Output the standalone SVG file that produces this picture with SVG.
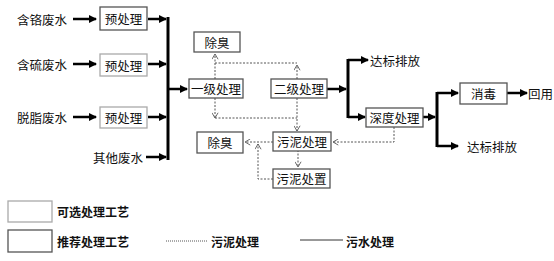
<svg xmlns="http://www.w3.org/2000/svg" width="554" height="261" viewBox="0 0 554 261">
<style>
text{font-family:"Noto Sans CJK SC","Noto Sans",sans-serif;font-size:12.5px;fill:#111;dominant-baseline:central}
.c{text-anchor:middle}
.box{fill:#fff;stroke:#555;stroke-width:1.3}
.lt{stroke:#aaa}
.s{fill:none;stroke:#000;stroke-width:2.5}
.bar{fill:none;stroke:#000;stroke-width:3}
.d{fill:none;stroke:#555;stroke-width:1;stroke-dasharray:2 1.5}
.lg{font-size:12px;font-weight:bold}
</style>
<defs>
<marker id="a" viewBox="0 0 8 8" refX="7" refY="4" markerWidth="8" markerHeight="8" markerUnits="userSpaceOnUse" orient="auto"><path d="M0,0L8,4L0,8z" fill="#000"/></marker>
<marker id="o" viewBox="0 0 8 8" refX="7" refY="4" markerWidth="7" markerHeight="7" markerUnits="userSpaceOnUse" orient="auto"><path d="M1,0.5L7,4L1,7.5" fill="none" stroke="#555" stroke-width="1"/></marker>
</defs>
<rect width="554" height="261" fill="#fff"/>
<g id="connectors">
<path class="s" d="M73,19H96" marker-end="url(#a)"/>
<path class="s" d="M73,64H96" marker-end="url(#a)"/>
<path class="s" d="M73,117H96" marker-end="url(#a)"/>
<path class="s" d="M148,19H166" marker-end="url(#a)"/>
<path class="s" d="M148,64H166" marker-end="url(#a)"/>
<path class="s" d="M148,117H166" marker-end="url(#a)"/>
<path class="s" d="M146,157H166" marker-end="url(#a)"/>
<path class="bar" d="M168,17V160"/>
<path class="s" d="M169,89H187" marker-end="url(#a)"/>
<path class="s" d="M327,89H346" marker-end="url(#a)"/>
<path class="bar" d="M348,59V118"/>
<path class="s" d="M348,60H368" marker-end="url(#a)"/>
<path class="s" d="M348,117H365" marker-end="url(#a)"/>
<path class="s" d="M423,117H435" marker-end="url(#a)"/>
<path class="bar" d="M437,92V147"/>
<path class="s" d="M437,93H458" marker-end="url(#a)"/>
<path class="s" d="M437,146H458" marker-end="url(#a)"/>
<path class="s" d="M507,93H527" marker-end="url(#a)"/>
<path class="d" d="M215,79V54" marker-end="url(#o)"/>
<path class="d" d="M215,63H297"/>
<path class="d" d="M297,79V65" marker-end="url(#o)"/>
<path class="d" d="M215,98V118" marker-end="url(#o)"/>
<path class="d" d="M215,118H297"/>
<path class="d" d="M297,98V131" marker-end="url(#o)"/>
<path class="d" d="M394,127V142H333" marker-end="url(#o)"/>
<path class="d" d="M273,142H245" marker-end="url(#o)"/>
<path class="d" d="M273,179H258V144" marker-end="url(#o)"/>
<path class="d" d="M298,150V167" marker-end="url(#o)"/>
</g>
<g id="src1"><text x="17" y="19">含铬废水</text></g>
<g id="src2"><text x="17" y="64">含硫废水</text></g>
<g id="src3"><text x="17" y="117">脱脂废水</text></g>
<g id="src4"><text x="93" y="157">其他废水</text></g>
<g id="pre1"><rect class="box" x="100" y="7" width="47" height="23"/><text class="c" x="123.5" y="18.5">预处理</text></g>
<g id="pre2"><rect class="box lt" x="100" y="54" width="47" height="22"/><text class="c" x="123.5" y="65">预处理</text></g>
<g id="pre3"><rect class="box lt" x="100" y="107" width="47" height="21"/><text class="c" x="123.5" y="117.5">预处理</text></g>
<g id="deodor1"><rect class="box" x="194" y="32" width="46" height="20"/><text class="c" x="217" y="42">除臭</text></g>
<g id="primary"><rect class="box" x="189" y="79" width="54" height="19"/><text class="c" x="216" y="88.5">一级处理</text></g>
<g id="secondary"><rect class="box" x="271" y="79" width="56" height="19"/><text class="c" x="299" y="88.5">二级处理</text></g>
<g id="deodor2"><rect class="box" x="197" y="132" width="46" height="21"/><text class="c" x="220" y="142.5">除臭</text></g>
<g id="sludge"><rect class="box" x="273" y="132" width="58" height="19"/><text class="c" x="302" y="141.5">污泥处理</text></g>
<g id="disposal"><rect class="box" x="273" y="169" width="57" height="19"/><text class="c" x="301.5" y="178.5">污泥处置</text></g>
<g id="discharge1"><text x="370" y="60">达标排放</text></g>
<g id="advanced"><rect class="box" x="366" y="108" width="57" height="19"/><text class="c" x="394.5" y="117.5">深度处理</text></g>
<g id="disinfect"><rect class="box" x="460" y="83" width="47" height="21"/><text class="c" x="483.5" y="93.5">消毒</text></g>
<g id="reuse"><text x="528" y="93">回用</text></g>
<g id="discharge2"><text x="467" y="146">达标排放</text></g>
<g id="legend">
<rect class="box lt" x="8" y="201" width="44" height="21"/><text class="lg" x="57" y="211">可选处理工艺</text>
<rect class="box" x="8" y="230" width="44" height="22"/><text class="lg" x="57" y="241">推荐处理工艺</text>
<path d="M166,241H208" fill="none" stroke="#555" stroke-width="1" stroke-dasharray="1 1"/><text class="lg" x="211" y="241">污泥处理</text>
<path d="M300,240H343" fill="none" stroke="#333" stroke-width="1"/><text class="lg" x="346" y="241">污水处理</text>
</g>
</svg>
